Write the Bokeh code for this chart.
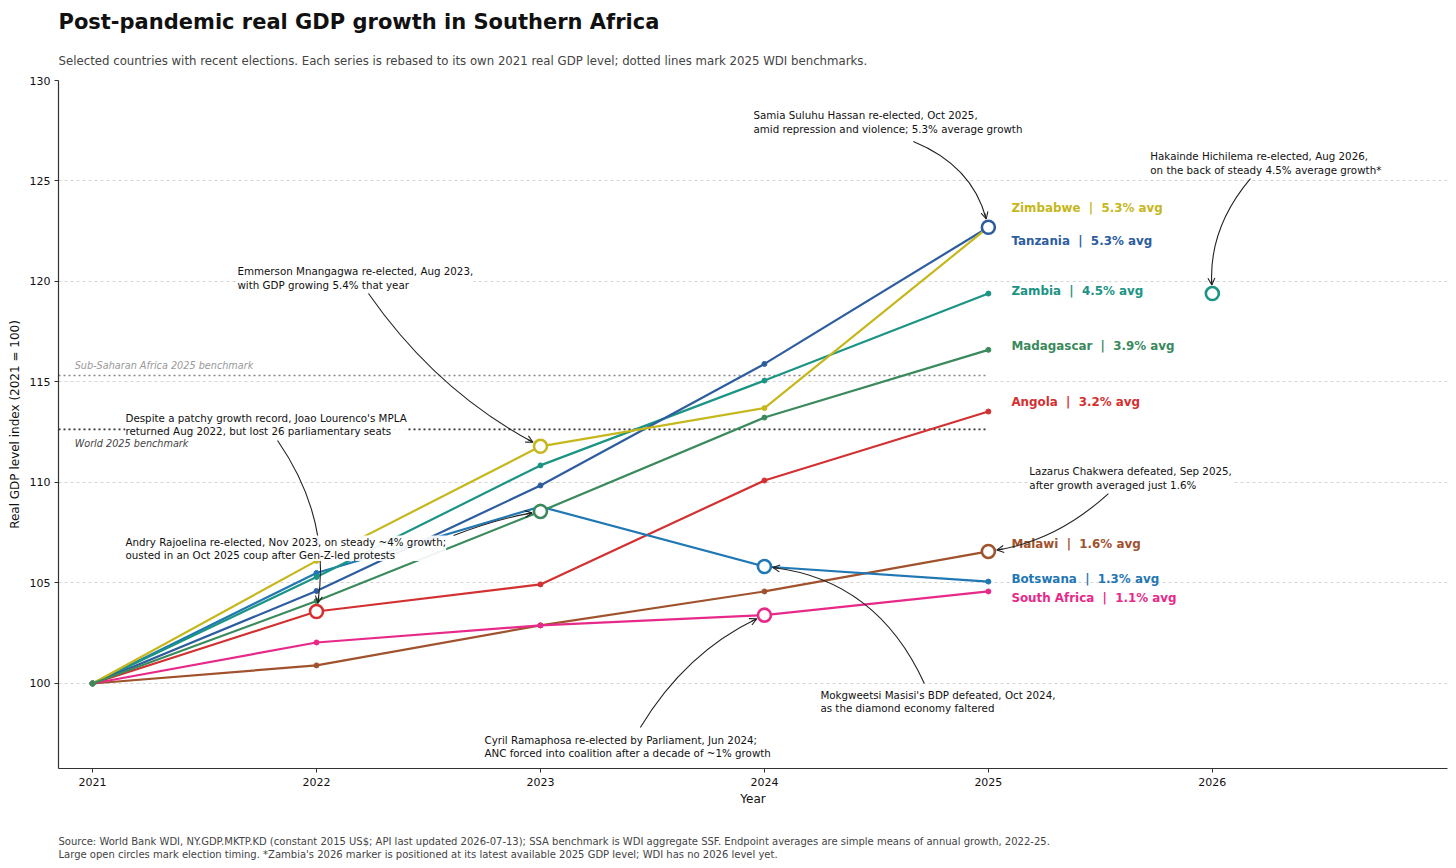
import math
from bokeh.plotting import figure
from bokeh.models import (ColumnDataSource, Range1d, FixedTicker, Label, Title,
                          Arrow, OpenHead)
from bokeh.core.properties import value
from bokeh.embed import file_html
from bokeh.resources import INLINE

# ---------------- data ----------------
years = [2021, 2022, 2023, 2024, 2025]
countries = ["Zimbabwe", "Tanzania", "Zambia", "Madagascar", "Angola",
             "Malawi", "Botswana", "South Africa"]
zimbabwe = [100, 106.1, 111.8, 113.7, 122.7]
tanzania = [100, 104.6, 109.85, 115.9, 122.7]
zambia = [100, 105.3, 110.85, 115.07, 119.4]
madagascar = [100, 104.1, 108.56, 113.23, 116.6]
angola = [100, 103.58, 104.93, 110.1, 113.53]
malawi = [100, 100.9, 102.89, 104.58, 106.57]
botswana = [100, 105.5, 108.8, 105.82, 105.07]
south_africa = [100, 102.04, 102.89, 103.4, 104.58]
avg_growth = ["5.3", "5.3", "4.5", "3.9", "3.2", "1.6", "1.3", "1.1"]
colors = ["#c6b71c", "#2d5d9f", "#1b9484", "#3a8a5c", "#d33131",
          "#a0522d", "#1f77b4", "#e7298a"]
label_y = [123.68, 121.99, 119.55, 116.77, 113.98, 106.92, 105.22, 104.23]

# election markers: (country, year)
elections = [("Angola", 2022), ("Zimbabwe", 2023), ("Madagascar", 2023),
             ("South Africa", 2024), ("Botswana", 2024),
             ("Tanzania", 2025), ("Malawi", 2025)]
zambia_2026_year = 2026

ssa_benchmark = 115.32
world_benchmark = 112.64

y_ticks = [100, 105, 110, 115, 120, 125, 130]
x_ticks = [2021, 2022, 2023, 2024, 2025, 2026]

title_text = "Post-pandemic real GDP growth in Southern Africa"
subtitle_text = ("Selected countries with recent elections. Each series is rebased to its own "
                 "2021 real GDP level; dotted lines mark 2025 WDI benchmarks.")
footer_1 = ("Source: World Bank WDI, NY.GDP.MKTP.KD (constant 2015 US$; API last updated "
            "2026-07-13); SSA benchmark is WDI aggregate SSF. Endpoint averages are simple "
            "means of annual growth, 2022-25.")
footer_2 = ("Large open circles mark election timing. *Zambia's 2026 marker is positioned at "
            "its latest available 2025 GDP level; WDI has no 2026 level yet.")

series = dict(zip(countries, [zimbabwe, tanzania, zambia, madagascar, angola,
                              malawi, botswana, south_africa]))
cmap = dict(zip(countries, colors))

FONT = "DejaVu Sans"
NB = "\u00a0"

# ---------------- figure ----------------
X0, X1 = 2020.848, 2027.05
Y0, Y1 = 95.77, 130.0
W, H = 1448, 860
BL, BR, BT, BB = 58, 1, 80, 92
p = figure(width=W, height=H, output_backend="svg", toolbar_location=None,
           x_range=Range1d(X0, X1), y_range=Range1d(Y0, Y1),
           min_border_left=BL, min_border_right=BR, min_border_top=BT,
           min_border_bottom=BB)
p.outline_line_color = None
p.background_fill_color = "white"
p.border_fill_color = "white"

# pixel scales (used for arrow geometry)
SX = (W - BL - BR) / (X1 - X0)
SY = (H - BT - BB) / (Y1 - Y0)

# axes
for ax in (p.xaxis[0], p.yaxis[0]):
    ax.axis_line_color = "#333333"
    ax.axis_line_width = 1.2
    ax.major_tick_line_color = "#333333"
    ax.major_tick_out = 4
    ax.major_tick_in = 0
    ax.minor_tick_line_color = None
    ax.major_label_text_font = FONT
    ax.major_label_text_font_size = "11px"
    ax.major_label_text_color = "#111111"
    ax.axis_label_text_font = FONT
    ax.axis_label_text_font_size = "12px"
    ax.axis_label_text_font_style = "normal"
    ax.axis_label_text_color = "#111111"
p.xaxis.ticker = FixedTicker(ticks=x_ticks)
p.yaxis.ticker = FixedTicker(ticks=y_ticks)
p.xaxis.axis_label = "Year"
p.yaxis.axis_label = "Real GDP level index (2021 = 100)"
p.xaxis.axis_label_standoff = 3
p.yaxis.axis_label_standoff = 5
p.xaxis.major_label_standoff = 5
p.yaxis.major_label_standoff = 4

p.xgrid.grid_line_color = None
p.ygrid.grid_line_color = "#d4d4d4"
p.ygrid.grid_line_dash = "3 3"
p.ygrid.grid_line_width = 1

# titles (above) and footer (below)
p.add_layout(Title(text=subtitle_text, text_font=FONT, text_font_size="11.75px",
                   text_font_style="normal", text_color="#444444",
                   align="left", standoff=26), "above")
p.add_layout(Title(text=title_text, text_font=FONT, text_font_size="21px",
                   text_font_style="bold", text_color="#111111",
                   align="left", standoff=10), "above")
p.add_layout(Title(text=" ", text_font_size="20.5px", standoff=0), "below")
p.add_layout(Title(text=footer_1, text_font=FONT, text_font_size="10px",
                   text_font_style="normal", text_color="#444444",
                   align="left", standoff=0), "below")
p.add_layout(Title(text=footer_2, text_font=FONT, text_font_size="10px",
                   text_font_style="normal", text_color="#444444",
                   align="left", standoff=0), "below")

# benchmarks
p.segment(x0=[X0], y0=[ssa_benchmark], x1=[years[-1]], y1=[ssa_benchmark],
          line_color="#888888", line_width=1.6, line_dash="2 3")
p.segment(x0=[X0], y0=[world_benchmark], x1=[years[-1]], y1=[world_benchmark],
          line_color="#333333", line_width=1.6, line_dash="2 3")
p.add_layout(Label(x=2020.92, y=ssa_benchmark + 0.22, text="Sub-Saharan Africa 2025 benchmark",
                   text_font=FONT, text_font_size="9.7px", text_font_style="italic",
                   text_color="#999999", text_baseline="bottom", text_align="left"))
p.add_layout(Label(x=2020.92, y=world_benchmark - 0.45, text="World 2025 benchmark",
                   text_font=FONT, text_font_size="9.7px", text_font_style="italic",
                   text_color="#444444", text_baseline="top", text_align="left"))

# series lines + dots
draw_order = ["Malawi", "South Africa", "Angola", "Botswana", "Zambia",
              "Tanzania", "Zimbabwe", "Madagascar"]
for c in draw_order:
    p.line(years, series[c], line_color=cmap[c], line_width=2.2)
    p.scatter(years, series[c], size=5, fill_color=cmap[c], line_color=cmap[c])

# election markers
for c, yr in elections:
    yv = series[c][years.index(yr)]
    p.scatter([yr], [yv], size=13, fill_color="white", line_color=cmap[c],
              line_width=2.6)
p.scatter([zambia_2026_year], [zambia[-1]], size=13, fill_color="white",
          line_color=cmap["Zambia"], line_width=2.6)

# end labels
sep = NB + NB + "|" + NB + NB
lab_src = ColumnDataSource(dict(
    x=[years[-1]] * len(countries), y=label_y,
    text=[f"{c}{sep}{g}% avg" for c, g in zip(countries, avg_growth)],
    color=colors))
p.text(x="x", y="y", text="text", source=lab_src, text_color="color",
       x_offset=23, text_font=value(FONT), text_font_size="11.9px",
       text_font_style="bold", text_baseline="middle", text_align="left")


# annotations with curved arrows
def annotate(text, tx, ty, sx, sy, target_x, target_y, rad, shrink=8.5):
    p.add_layout(Label(x=tx, y=ty, text=text, text_font=FONT,
                       text_font_size="10.3px", text_color="#111111",
                       text_align="left", text_baseline="top",
                       background_fill_color="white", background_fill_alpha=0.92,
                       text_line_height=1.12))
    # to pixel space (y down)
    ax, ay = sx * SX, -sy * SY
    bx, by = target_x * SX, -target_y * SY
    dx, dy = bx - ax, by - ay
    mx, my = (ax + bx) / 2, (ay + by) / 2
    cx, cy = mx + rad * dy, my - rad * dx
    # shrink end towards control point
    ex, ey = bx - cx, by - cy
    d = math.hypot(ex, ey)
    bx2, by2 = bx - ex / d * shrink, by - ey / d * shrink
    p.quadratic(x0=[ax / SX], y0=[-ay / SY], x1=[bx2 / SX], y1=[-by2 / SY],
                cx=[cx / SX], cy=[-cy / SY], line_color="#222222", line_width=1.1)
    hx, hy = bx2 - ex / d * 6, by2 - ey / d * 6
    p.add_layout(Arrow(end=OpenHead(size=7, line_color="#222222", line_width=1.1),
                       x_start=hx / SX, y_start=-hy / SY,
                       x_end=bx2 / SX, y_end=-by2 / SY,
                       line_color="#222222", line_width=1.1))


annotate("Samia Suluhu Hassan re-elected, Oct 2025,\namid repression and violence; 5.3% average growth",
         2023.951, 128.56, 2024.665, 126.97, 2025, tanzania[-1], 0.25)
annotate("Hakainde Hichilema re-elected, Aug 2026,\non the back of steady 4.5% average growth*",
         2025.723, 126.52, 2026.17, 125.12, zambia_2026_year, zambia[-1], -0.2)
annotate("Emmerson Mnangagwa re-elected, Aug 2023,\nwith GDP growing 5.4% that year",
         2021.647, 120.80, 2022.232, 119.40, 2023, zimbabwe[2], -0.12)
annotate("Despite a patchy growth record, Joao Lourenco's MPLA\nreturned Aug 2022, but lost 26 parliamentary seats",
         2021.147, 113.53, 2021.826, 112.09, 2022, angola[1], 0.2)
annotate("Andry Rajoelina re-elected, Nov 2023, on steady ~4% growth;\nousted in an Oct 2025 coup after Gen-Z-led protests",
         2021.147, 107.36, 2022.612, 107.36, 2023, madagascar[2], 0.05)
annotate("Lazarus Chakwera defeated, Sep 2025,\nafter growth averaged just 1.6%",
         2025.183, 110.85, 2025.536, 109.45, 2025, malawi[-1], 0.15)
annotate("Mokgweetsi Masisi's BDP defeated, Oct 2024,\nas the diamond economy faltered",
         2024.25, 99.75, 2024.714, 100.0, 2024, botswana[3], -0.28)
annotate("Cyril Ramaphosa re-elected by Parliament, Jun 2024;\nANC forced into coalition after a decade of ~1% growth",
         2022.75, 97.51, 2023.446, 97.81, 2024, south_africa[3], 0.15)

open("out.html", "w").write(file_html(p, INLINE))
